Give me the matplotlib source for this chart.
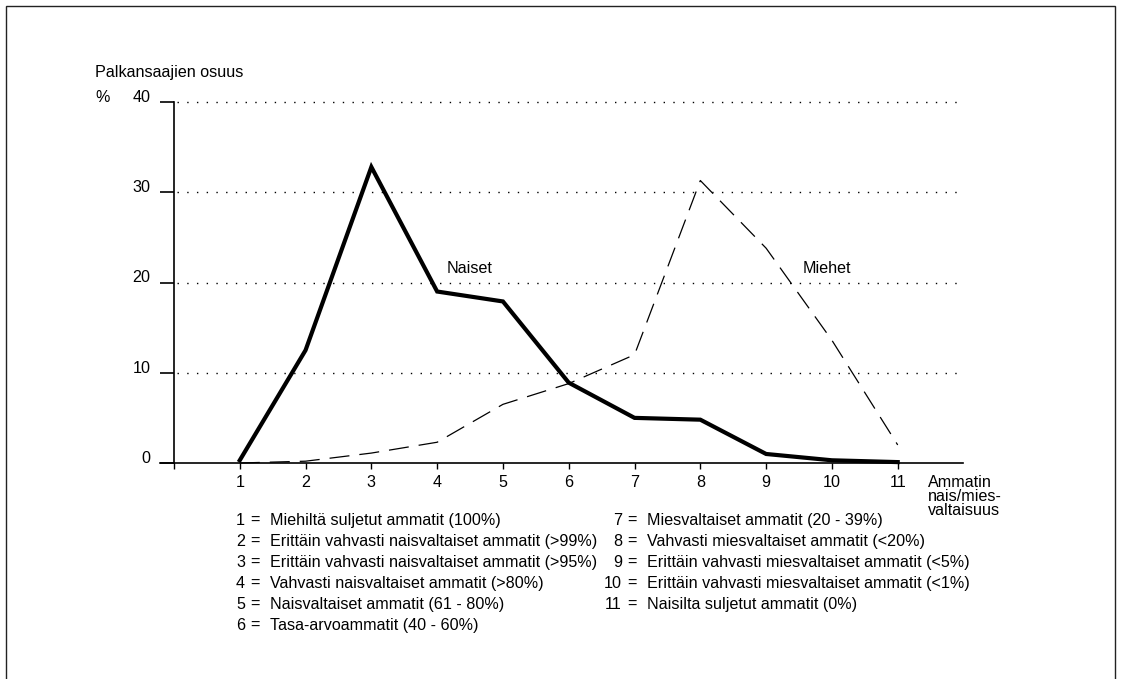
import numpy as np
import matplotlib.pyplot as plt
from matplotlib.patches import Rectangle

plt.rcParams['font.family'] = ['Liberation Sans', 'DejaVu Sans']

# ammattiryhmat 1..11
groups = list(range(1, 12))
naiset = [0.3, 12.5, 32.8, 19.0, 17.9, 8.9, 5.0, 4.8, 1.0, 0.3, 0.1]
miehet = [0.0, 0.2, 1.1, 2.3, 6.5, 8.8, 12.0, 31.3, 23.8, 13.6, 2.0]
yticks = [0, 10, 20, 30, 40]

selitteet = [
    'Miehiltä suljetut ammatit (100%)',
    'Erittäin vahvasti naisvaltaiset ammatit (>99%)',
    'Erittäin vahvasti naisvaltaiset ammatit (>95%)',
    'Vahvasti naisvaltaiset ammatit (>80%)',
    'Naisvaltaiset ammatit (61 - 80%)',
    'Tasa-arvoammatit (40 - 60%)',
    'Miesvaltaiset ammatit (20 - 39%)',
    'Vahvasti miesvaltaiset ammatit (<20%)',
    'Erittäin vahvasti miesvaltaiset ammatit (<5%)',
    'Erittäin vahvasti miesvaltaiset ammatit (<1%)',
    'Naisilta suljetut ammatit (0%)',
]

W, H = 1121, 679
fs = 11.6
fig = plt.figure(figsize=(W / 100, H / 100), dpi=100)

def px(x, y):
    return x / W, 1 - y / H

ax = fig.add_axes([159.5 / W, 1 - 463 / H, 804 / W, 361 / H])
ax.set_xlim(-0.22, 12.0)
ax.set_ylim(0, 40)

# pisteviivat
for yv in yticks[1:]:
    ax.plot([0.05, 11.95], [yv, yv], color='black', lw=1.0,
            linestyle=(0, (1, 6)), clip_on=False)

ax.plot(groups, naiset, color='black', lw=3.0, solid_joinstyle='miter', clip_on=False)
ax.plot(groups, miehet, color='black', lw=0.9, dashes=(16, 8), clip_on=False)

ax.text(4.5, 21.6, 'Naiset', fontsize=fs, ha='center', va='center')
ax.text(9.92, 21.6, 'Miehet', fontsize=fs, ha='center', va='center')

for s in ['top', 'right']:
    ax.spines[s].set_visible(False)
ax.spines['left'].set_position(('data', 0))
ax.spines['left'].set_bounds(0, 40)
ax.spines['left'].set_linewidth(1.2)
ax.spines['bottom'].set_linewidth(1.2)

ax.set_yticks(yticks)
ax.set_yticklabels([str(v) for v in yticks], va='baseline')
ax.tick_params(axis='y', direction='out', length=10, width=1.2, pad=7, labelsize=fs)
ax.set_xticks([0] + groups)
ax.set_xticklabels([''] + [str(g) for g in groups])
ax.tick_params(axis='x', direction='out', length=4.5, width=1.0, pad=4, labelsize=fs)

fig.text(*px(95, 72), 'Palkansaajien osuus', fontsize=fs, ha='left', va='center')
fig.text(*px(95, 97), '%', fontsize=fs, ha='left', va='center')
fig.text(*px(928, 475), 'Ammatin\nnais/mies-\nvaltaisuus', fontsize=fs,
         ha='left', va='top', linespacing=0.9)

# selitteet kahteen palstaan
for i, teksti in enumerate(selitteet):
    if i < 6:
        xn, xe, xt, y = 245, 250, 270, 525 + 21 * i
    else:
        xn, xe, xt, y = 622, 627, 647, 525 + 21 * (i - 6)
    fig.text(*px(xn, y), str(i + 1), fontsize=fs, ha='right', va='baseline')
    fig.text(*px(xe, y), '=', fontsize=fs, ha='left', va='baseline')
    fig.text(*px(xt, y), teksti, fontsize=fs, ha='left', va='baseline')

# kehys
fig.add_artist(Rectangle(px(6, 700), 1109 / W, 694 / H, transform=fig.transFigure,
                         fill=False, edgecolor='#222222', lw=1.0))

fig.savefig('out.png', dpi=100)
